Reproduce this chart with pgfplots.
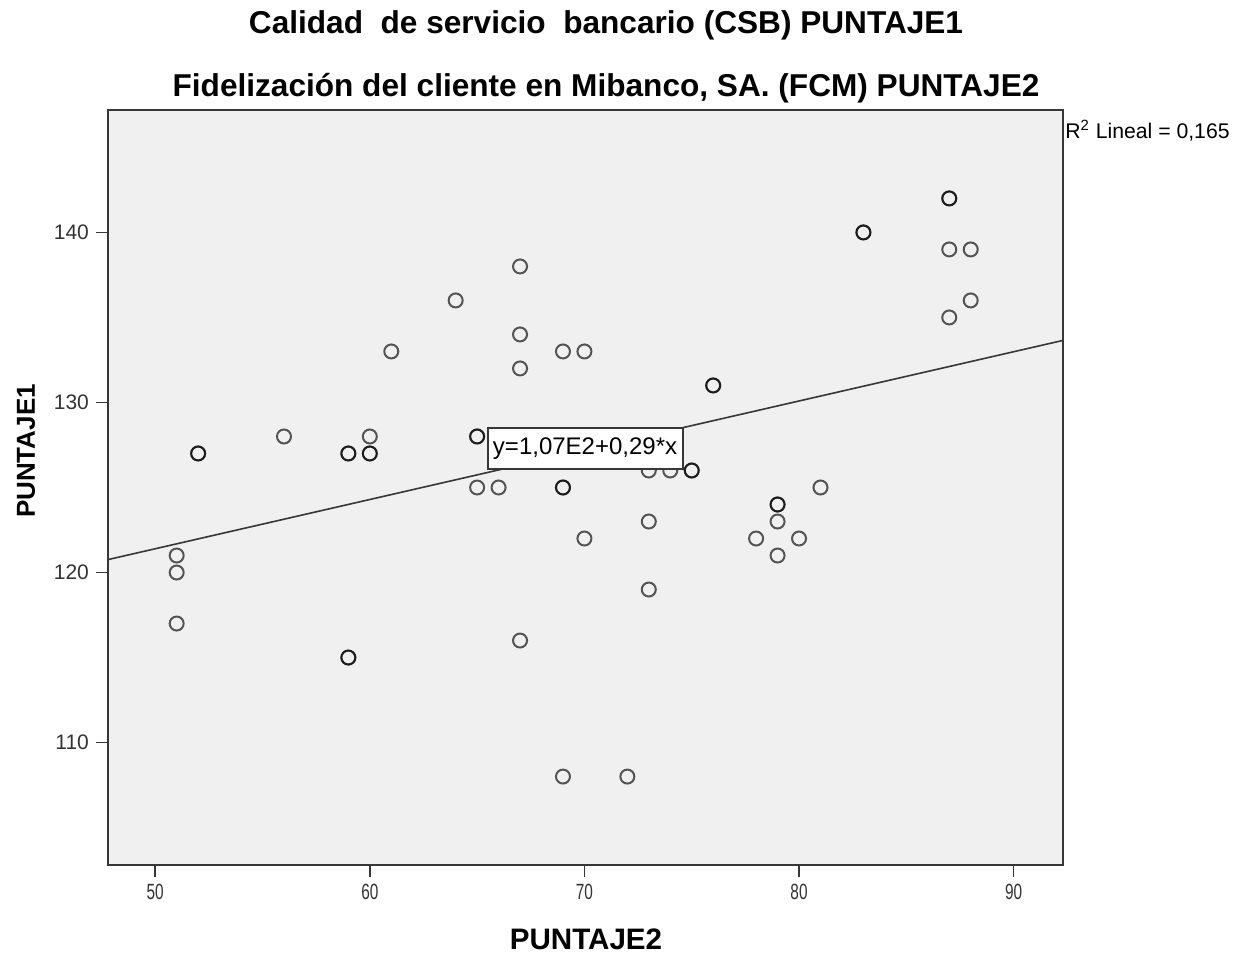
\documentclass[border=0pt]{standalone}
\usepackage{fontspec}
\setmainfont{Liberation Sans}
\usepackage{pgfplots}
\pgfplotsset{compat=1.18}
\definecolor{bg}{RGB}{240,240,240}
\definecolor{frame}{RGB}{55,55,55}
\begin{document}
\begin{tikzpicture}
\path (-54pt,-44.5pt) rectangle (570.5pt,432.5pt);
\begin{axis}[scale only axis, width=477.5pt, height=377.5pt, at={(0,0)}, anchor=south west,
  xmin=47.8, xmax=92.3, ymin=102.8, ymax=147.2,
  xtick={50,60,70,80,90}, ytick={110,120,130,140},
  tick pos=left, tick align=outside, major tick length=6pt,
  axis line style={frame, line width=1pt},
  axis background/.style={fill=bg},
  tick style={frame, line width=0.8pt},
  yticklabel style={font=\fontsize{10.5}{12}\selectfont, text=black!80},
  xticklabel style={font=\fontsize{11}{12}\selectfont, text=black!80, xscale=0.7},
  /pgf/number format/assume math mode=true,
  clip mode=individual]
\addplot[only marks, mark=o, mark size=3.5pt, mark options={draw=black, draw opacity=0.65, line width=1pt}] coordinates {
(51,121)(51,120)(51,117)(52,127)(52,127)(56,128)(59,127)(59,127)(59,115)(59,115)
(60,128)(60,127)(60,127)(61,133)(64,136)(65,128)(65,128)(65,125)(66,125)(67,138)
(67,134)(67,132)(67,116)(69,133)(69,125)(69,125)(69,108)(70,133)(70,122)(72,108)
(73,126)(73,123)(73,119)(74,126)(75,126)(75,126)(76,131)(76,131)(78,122)(79,124)
(79,124)(79,123)(79,121)(80,122)(81,125)(83,140)(83,140)(87,142)(87,142)(87,139)
(87,135)(88,139)(88,136)};
\addplot[no marks, line width=0.8pt, frame] coordinates {(47.8,120.76) (92.3,133.65)};
\node[draw=frame, line width=1pt, fill=white, inner sep=0pt, minimum width=97.5pt, minimum height=20.5pt, font=\fontsize{12}{14}\selectfont] at (axis cs:70.03,127.3) {y=1,07E2+0,29*x};
\end{axis}
\node[anchor=base, font=\bfseries\fontsize{15.8}{18}\selectfont] at (249pt,415.5pt) {Calidad\ \ de servicio\ \ bancario (CSB) PUNTAJE1};
\node[anchor=base, font=\bfseries\fontsize{15.8}{18}\selectfont] at (249pt,384pt) {Fidelización del cliente en Mibanco, SA. (FCM) PUNTAJE2};
\node[anchor=base, font=\bfseries\fontsize{14.8}{16}\selectfont] at (239pt,-42.5pt) {PUNTAJE2};
\node[anchor=base, rotate=90, font=\bfseries\fontsize{13}{16}\selectfont] at (-36.5pt,207pt) {PUNTAJE1};
\node[anchor=west, inner sep=0pt, font=\fontsize{10.6}{12}\selectfont] at (478.5pt,367pt) {R\textsuperscript{2} Lineal = 0,165};
\end{tikzpicture}
\end{document}
